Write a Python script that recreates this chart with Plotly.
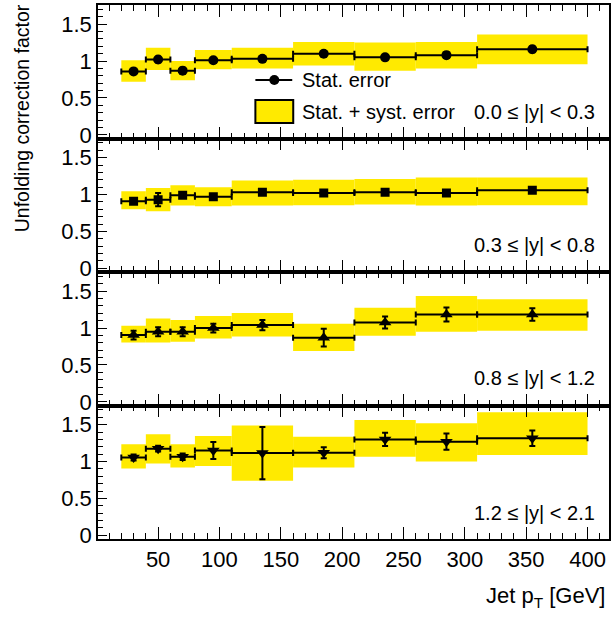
import plotly.graph_objects as go
from plotly.subplots import make_subplots

# ---------------- data ----------------
pt_edges = [20, 40, 60, 80, 110, 160, 210, 260, 310, 400]
x_ticks = [50, 100, 150, 200, 250, 300, 350, 400]
rap_labels = ["0.0 \u2264 |y| < 0.3", "0.3 \u2264 |y| < 0.8",
              "0.8 \u2264 |y| < 1.2", "1.2 \u2264 |y| < 2.1"]

# |y| < 0.3
val_y1 = [0.86, 1.02, 0.87, 1.01, 1.03, 1.10, 1.05, 1.08, 1.16]
stat_y1 = [0.03, 0.04, 0.04, 0.03, 0.03, 0.03, 0.03, 0.04, 0.04]
low_y1 = [0.72, 0.88, 0.74, 0.89, 0.90, 0.94, 0.87, 0.90, 0.955]
high_y1 = [1.01, 1.18, 1.00, 1.15, 1.18, 1.26, 1.25, 1.26, 1.36]

# 0.3 - 0.8
val_y2 = [0.91, 0.93, 0.99, 0.97, 1.03, 1.02, 1.03, 1.02, 1.06]
stat_y2 = [0.025, 0.09, 0.03, 0.03, 0.02, 0.02, 0.02, 0.03, 0.03]
low_y2 = [0.80, 0.775, 0.85, 0.84, 0.85, 0.855, 0.865, 0.85, 0.855]
high_y2 = [1.045, 1.09, 1.125, 1.10, 1.19, 1.20, 1.21, 1.23, 1.23]

# 0.8 - 1.2
val_y3 = [0.905, 0.95, 0.95, 1.00, 1.04, 0.87, 1.075, 1.185, 1.185]
stat_y3 = [0.06, 0.06, 0.06, 0.06, 0.07, 0.12, 0.08, 0.095, 0.085]
low_y3 = [0.805, 0.805, 0.815, 0.86, 0.885, 0.69, 0.895, 0.95, 0.965]
high_y3 = [1.03, 1.13, 1.11, 1.165, 1.205, 1.06, 1.275, 1.435, 1.39]

# 1.2 - 2.1
val_y4 = [1.055, 1.175, 1.065, 1.15, 1.115, 1.12, 1.30, 1.27, 1.315]
stat_y4 = [0.04, 0.04, 0.045, 0.115, 0.355, 0.075, 0.09, 0.11, 0.105]
low_y4 = [0.905, 0.975, 0.92, 0.94, 0.74, 0.92, 1.065, 1.00, 1.09]
high_y4 = [1.235, 1.37, 1.235, 1.345, 1.49, 1.335, 1.565, 1.52, 1.67]

panels = [
    (val_y1, stat_y1, low_y1, high_y1, "circle", 10),
    (val_y2, stat_y2, low_y2, high_y2, "square", 9),
    (val_y3, stat_y3, low_y3, high_y3, "triangle-up", 11),
    (val_y4, stat_y4, low_y4, high_y4, "triangle-down", 11),
]

# ---------------- layout geometry ----------------
W, H = 614, 617
L, R, T, B = 98, 611, 5, 539
FONT = "Liberation Sans, Arial, Helvetica, sans-serif"
YELLOW = "#FFEA00"


def px_x(px):
    return (px - L) / (R - L)


def px_y(py):
    return (B - py) / (B - T)


centers = [(a + b) / 2 for a, b in zip(pt_edges[:-1], pt_edges[1:])]
widths = [b - a for a, b in zip(pt_edges[:-1], pt_edges[1:])]
halfw = [w / 2 for w in widths]

fig = make_subplots(rows=4, cols=1, shared_xaxes=True, vertical_spacing=0)

for i, (val, stat, lo, hi, sym, msize) in enumerate(panels, start=1):
    fig.add_trace(go.Bar(
        x=centers, y=[h - l for l, h in zip(lo, hi)], base=lo, width=widths,
        marker=dict(color=YELLOW, line=dict(width=0)), showlegend=False,
        hoverinfo="skip"), row=i, col=1)
    fig.add_trace(go.Scatter(
        x=centers, y=val, mode="markers",
        marker=dict(symbol=sym, size=msize, color="black"),
        error_x=dict(type="data", array=halfw, color="black", thickness=2, width=3),
        error_y=dict(type="data", array=stat, color="black", thickness=2, width=3),
        showlegend=False), row=i, col=1)

axis_common = dict(showline=True, linecolor="black", linewidth=1.5,
                   showgrid=False, zeroline=False, ticks="inside",
                   tickcolor="black", tickwidth=1,
                   tickfont=dict(family=FONT, size=22, color="black"))

for i in range(1, 5):
    fig.update_xaxes(range=[1, 417.5], tickvals=x_ticks,
                     ticklen=12, mirror="ticks",
                     minor=dict(dtick=10, tick0=0, ticklen=6, ticks="inside",
                                tickcolor="black", tickwidth=1),
                     showticklabels=(i == 4), row=i, col=1, **axis_common)
    fig.update_yaxes(range=[-0.05, 1.76], dtick=0.5, tick0=0, ticklen=9,
                     mirror=True,
                     minor=dict(dtick=0.1, tick0=0, ticklen=5, ticks="inside",
                                tickcolor="black", tickwidth=1),
                     row=i, col=1, **axis_common)

annotations = []
label_y = [112, 245, 378, 513]
for txt, yy in zip(rap_labels, label_y):
    annotations.append(dict(text=txt, xref="paper", yref="paper", x=px_x(599),
                            y=px_y(yy), xanchor="right", yanchor="middle",
                            showarrow=False,
                            font=dict(family=FONT, size=20, color="black")))

# legend
annotations.append(dict(text="Stat. error", xref="paper", yref="paper",
                        x=px_x(301), y=px_y(80), xanchor="left", yanchor="middle",
                        showarrow=False, font=dict(family=FONT, size=20, color="black")))
annotations.append(dict(text="Stat. + syst. error", xref="paper", yref="paper",
                        x=px_x(301), y=px_y(112), xanchor="left", yanchor="middle",
                        showarrow=False, font=dict(family=FONT, size=20, color="black")))

# axis titles
annotations.append(dict(text="Jet p<sub>T</sub> [GeV]", xref="paper", yref="paper",
                        x=px_x(609), y=px_y(597), xanchor="right", yanchor="middle",
                        showarrow=False, font=dict(family=FONT, size=22, color="black")))
annotations.append(dict(text="Unfolding correction factor", xref="paper", yref="paper",
                        x=px_x(22), y=px_y(118), xanchor="center", yanchor="middle",
                        textangle=-90, showarrow=False,
                        font=dict(family=FONT, size=19.5, color="black")))

shapes = [
    dict(type="line", xref="paper", yref="paper", x0=px_x(256), x1=px_x(293),
         y0=px_y(80), y1=px_y(80), line=dict(color="black", width=2)),
    dict(type="circle", xref="paper", yref="paper", x0=px_x(270), x1=px_x(280),
         y0=px_y(75), y1=px_y(85), fillcolor="black", line=dict(color="black", width=0)),
    dict(type="rect", xref="paper", yref="paper", x0=px_x(256), x1=px_x(294),
         y0=px_y(100), y1=px_y(123), fillcolor=YELLOW, line=dict(color="black", width=2)),
]

fig.update_layout(
    width=W, height=H, margin=dict(l=L, r=W - R, t=T, b=H - B),
    paper_bgcolor="white", plot_bgcolor="white", barmode="overlay",
    showlegend=False, annotations=annotations, shapes=shapes,
    font=dict(family=FONT, color="black"),
)

fig.write_html("out.html")
